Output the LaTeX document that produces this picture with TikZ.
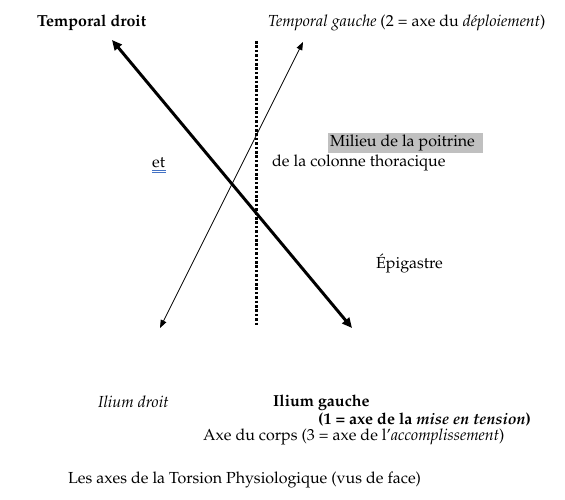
\documentclass[tikz,border=0pt]{standalone}
\usepackage[T1]{fontenc}
\renewcommand{\rmdefault}{ppl}
\usetikzlibrary{arrows.meta}
\definecolor{hlgray}{HTML}{C0C0C0}
\definecolor{spellblue}{HTML}{4472C4}
\tikzset{
  lbl/.style={anchor=west, inner sep=0pt, font=\fontsize{16}{19}\selectfont},
  thickarrow/.style={line width=3pt, {Triangle[length=10pt,width=9pt]}-{Triangle[length=10pt,width=9pt]}},
  thinarrow/.style={line width=0.8pt, {Triangle[length=8pt,width=6pt]}-{Triangle[length=8pt,width=6pt]}},
  bodyaxis/.style={line width=3pt, dash pattern=on 2.6pt off 1.8pt}
}
\begin{document}
\begin{tikzpicture}[x=1pt,y=-1pt]
\useasboundingbox (0,0) rectangle (565,500);
% axes endpoints
\coordinate (thA) at (112,40);
\coordinate (thB) at (352,328);
\coordinate (tnA) at (303,42);
\coordinate (tnB) at (160,328);
\coordinate (axT) at (256,41);
\coordinate (axB) at (256,325);
\draw[bodyaxis] (axT) -- (axB);
\draw[thickarrow] (thA) -- (thB);
\draw[thinarrow] (tnB) -- (tnA);
% labels
\node[lbl] (td) at (37,23) {\textbf{Temporal droit}};
\node[lbl] (tg) at (268,23) {\textit{Temporal gauche} (2 = axe du \textit{d\'eploiement})};
\fill[hlgray] (328,133) rectangle (483,153);
\node[lbl] (mp) at (330,143) {Milieu de la poitrine};
\node[lbl] (et) at (152,163) {et};
\draw[spellblue, line width=0.6pt] (et.south west) ++(0,2) -- ++(14,0);
\draw[spellblue, line width=0.6pt] (et.south west) ++(0,4) -- ++(14,0);
\node[lbl] (ct) at (272,163) {de la colonne thoracique};
\node[lbl] (ep) at (376,263) {\'Epigastre};
\node[lbl] (id) at (98,402) {\textit{Ilium droit}};
\node[lbl] (ig) at (273,403) {\textbf{Ilium gauche}};
\node[lbl] (mt) at (318,420) {\textbf{(1 = axe de la \textit{mise en tension})}};
\node[lbl] (ac) at (203,437) {Axe du corps (3 = axe de l'\textit{accomplissement})};
\node[lbl] (tt) at (68,480) {Les axes de la Torsion Physiologique (vus de face)};
\end{tikzpicture}
\end{document}
